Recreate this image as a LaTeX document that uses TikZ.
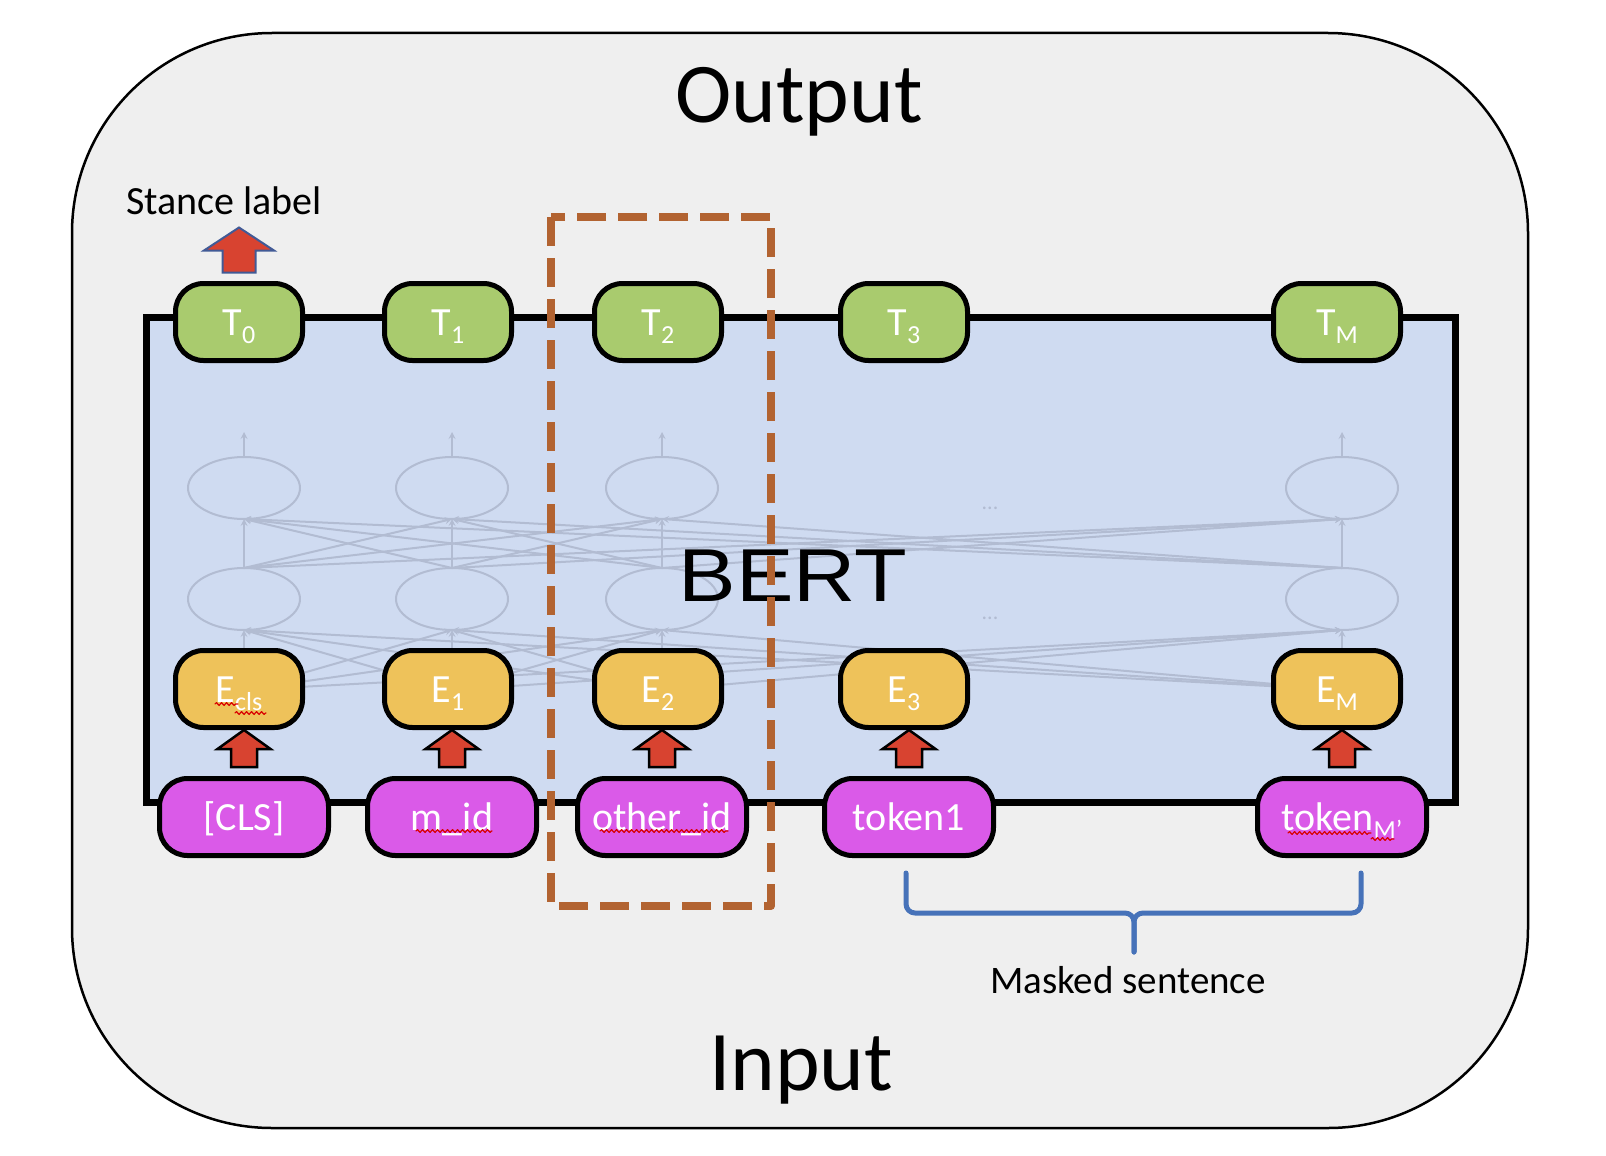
\documentclass[tikz,border=0pt]{standalone}
\usepackage{fontspec}
\setmainfont{Carlito}
\newfontfamily\bertfont{Liberation Sans}
\usetikzlibrary{decorations.pathmorphing,calc}
\definecolor{outerfill}{RGB}{239,239,239}
\definecolor{bertfill}{RGB}{207,219,241}
\definecolor{tgreen}{RGB}{169,203,110}
\definecolor{eyellow}{RGB}{238,194,90}
\definecolor{inmag}{RGB}{218,90,232}
\definecolor{redfill}{RGB}{216,67,48}
\definecolor{dashbrown}{RGB}{178,99,49}
\definecolor{braceblue}{RGB}{70,114,185}
\definecolor{netgray}{RGB}{178,188,210}
\definecolor{stanceblue}{RGB}{65,90,150}
\newcommand{\lowsub}[1]{\raisebox{-8pt}{\fontsize{26}{26}\selectfont #1}}
\tikzset{
  tbox/.style={draw=black,line width=5pt,rounded corners=28pt,fill=tgreen,
    minimum width=127pt,minimum height=77pt,inner sep=0pt,text=white,
    text height=26pt,text depth=0pt,font=\fontsize{40}{40}\selectfont},
  ebox/.style={tbox,fill=eyellow},
  inbox/.style={tbox,fill=inmag,minimum width=169pt},
  redup/.style={fill=redfill,draw=black,line width=2.5pt,line join=miter},
  net/.style={draw=netgray,line width=2pt},
  squig/.style={draw=red!85!black,line width=1.2pt,decorate,
    decoration={snake,amplitude=1.4pt,segment length=5pt}},
  dashbox/.style={draw=dashbrown,line width=8pt,dash pattern=on 29pt off 12pt,line cap=butt}
}
\begin{document}
\begin{tikzpicture}[x=1pt,y=-1pt,line join=round,line cap=round,>=stealth]
\useasboundingbox (0,0) rectangle (1606,1156);
% outer frame
\draw[fill=outerfill,line width=2.5pt,rounded corners=200pt] (72,33) rectangle (1528,1128);
\node[anchor=base,font=\fontsize{85}{85}\selectfont] (outlabel) at (799,122) {Output};
\node[anchor=base,font=\fontsize{85}{85}\selectfont] (inlabel) at (801,1090) {Input};
% BERT block
\draw[fill=bertfill,line width=7pt,line join=miter] (146,317) rectangle (1455,802);
\foreach \a in {244,452,662,1342}{
  \draw[net] (\a,488) ellipse (56 and 31);
  \draw[net] (\a,599) ellipse (56 and 31);
  \draw[net,->] (\a,457) -- (\a,432);
  \foreach \b in {244,452,662,1342}{
    \draw[net,->] (\a,568) -- (\b,519);
    \draw[net,->] (\a,690) -- (\b,630);
  }
}
\node[text=netgray,font=\fontsize{22}{22}\selectfont] (dotsup) at (990,508) {...};
\node[text=netgray,font=\fontsize{22}{22}\selectfont] (dotslow) at (990,618) {...};
\node[anchor=base,font=\bertfont\fontsize{75}{75}\selectfont] (bert) at (793,601) {\scalebox{1.15}[1]{BERT}};
% outputs
\node[tbox] (t0) at (239,322) {T\lowsub{0}};
\node[tbox] (t1) at (448,322) {T\lowsub{1}};
\node[tbox] (t2) at (658,322) {T\lowsub{2}};
\node[tbox] (t3) at (904,322) {T\lowsub{3}};
\node[tbox] (tm) at (1337,322) {T\lowsub{M}};
% embeddings
\node[ebox] (ecls) at (239,689) {E\lowsub{cls}};
\node[ebox] (e1) at (448,689) {E\lowsub{1}};
\node[ebox] (e2) at (658,689) {E\lowsub{2}};
\node[ebox] (e3) at (904,689) {E\lowsub{3}};
\node[ebox] (em) at (1337,689) {E\lowsub{M}};
% inputs
\node[inbox] (cls) at (244,817) {[CLS]};
\node[inbox] (mid) at (452,817) {m\_id};
\node[inbox] (oth) at (662,817) {other\_id};
\node[inbox] (tok) at (909,817) {token1};
\node[inbox] (tokm) at (1342,817) {token\lowsub{M’}};
\foreach \n in {cls,mid,oth,tok,tokm}
  \draw[redup] ($(\n.north)+(-13,-9)$) -- ++(0,-18) -- ++(-13.5,0) -- ++(26.5,-19)
    -- ++(26.5,19) -- ++(-13.5,0) -- ++(0,18) -- cycle;
% stance output
\draw[redup,draw=stanceblue,line width=2pt] ($(t0.north)+(-16.5,-8.5)$) -- ++(0,-22) -- ++(-18.5,0)
  -- ++(35,-23) -- ++(35,23) -- ++(-18.5,0) -- ++(0,22) -- cycle;
\node[anchor=base,font=\fontsize{40}{40}\selectfont] (stance) at (224,214) {Stance label};
% spell marks
\draw[squig] (215,704) -- (238,704);
\draw[squig] (235,713) -- (266,713);
\draw[squig] (416,831) -- (492,831);
\draw[squig] (600,831) -- (728,831);
\draw[squig] (1288,833) -- (1371,833);
\draw[squig] (1371,839) -- (1394,839);
% masked sentence
\draw[draw=braceblue,line width=5pt,rounded corners=9pt] (906,873) -- (906,913) -- (1134,913) -- (1134,952);
\draw[draw=braceblue,line width=5pt,rounded corners=9pt] (1361,873) -- (1361,913) -- (1134,913) -- (1134,952);
\node[anchor=base,font=\fontsize{39}{39}\selectfont] (masked) at (1128,993) {Masked sentence};
% highlighted column
\draw[dashbox] (551,217) rectangle (771,906);
\end{tikzpicture}
\end{document}
